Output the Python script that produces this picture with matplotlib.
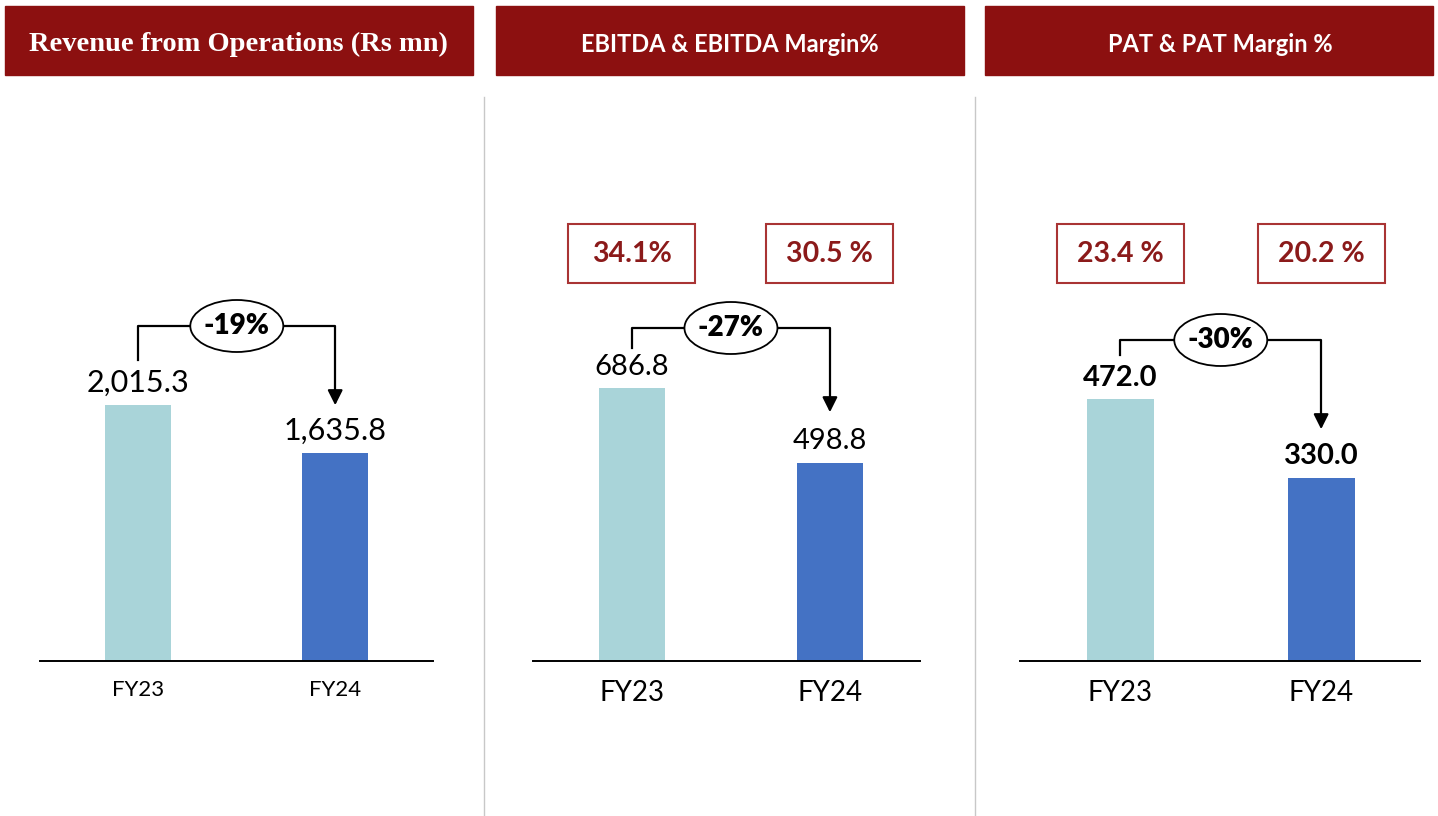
import matplotlib.pyplot as plt
from matplotlib.patches import Rectangle, Ellipse
from matplotlib.transforms import blended_transform_factory

plt.rcParams['font.family'] = ['Lato', 'DejaVu Sans']

# data
years = ['FY23', 'FY24']
revenue = [2015.3, 1635.8]
ebitda = [686.8, 498.8]
pat = [472.0, 330.0]
revenue_change = '-19%'
ebitda_change = '-27%'
pat_change = '-30%'
ebitda_margin = ['34.1%', '30.5 %']
pat_margin = ['23.4 %', '20.2 %']
titles = ['Revenue from Operations (Rs mn)', 'EBITDA & EBITDA Margin%', 'PAT & PAT Margin %']

bar_colors = ['#A9D4D9', '#4472C4']
header_red = '#8C1010'
margin_red = '#8B1A1A'

W, H = 1438, 816
BASE, TOP = 661, 97          # pixel rows of axes bottom / top

fig = plt.figure(figsize=(W / 100, H / 100), dpi=100)

# header bars and separators drawn on a full-figure overlay in pixel units
bg = fig.add_axes([0, 0, 1, 1])
bg.set_xlim(0, W)
bg.set_ylim(H, 0)
bg.axis('off')
headers = [(5, 473), (496, 964), (985, 1433)]
title_x = [238, 730, 1220]
for (x0, x1), t, tx, i in zip(headers, titles, title_x, range(3)):
    bg.add_patch(Rectangle((x0, 6), x1 - x0, 69, color=header_red))
    if i == 0:
        bg.text(tx, 44, t, color='white', ha='center', va='center',
                fontsize=20.5, fontweight='bold', family='Liberation Serif')
    else:
        bg.text(tx, 44, t, color='white', ha='center', va='center',
                fontsize=17, fontweight='bold')
for sx in [484, 975]:
    bg.plot([sx, sx], [TOP, H], color='#C8C8C8', lw=1)


def frac(py):
    return (BASE - py) / (BASE - TOP)


def panel(left, width, xmax, vals, y_top, change, levels, label_bold, label_size,
          tick_size, margins=None):
    ax = fig.add_axes([left / W, (H - BASE) / H, width / W, (BASE - TOP) / H])
    x = [0, 1]
    ax.bar(x, vals, width=0.335, color=bar_colors)
    ax.set_xlim(-0.5, xmax)
    ax.set_ylim(0, y_top)
    ax.set_xticks(x)
    ax.set_xticklabels(years, fontsize=tick_size)
    ax.tick_params(axis='x', length=0, pad=14)
    ax.set_yticks([])
    for s in ['top', 'left', 'right']:
        ax.spines[s].set_visible(False)
    ax.spines['bottom'].set_linewidth(1.4)
    ax.patch.set_alpha(0)

    for xi, v in zip(x, vals):
        ax.annotate(f'{v:,.1f}', (xi, v), xytext=(0, 6), textcoords='offset points',
                    ha='center', va='bottom', fontsize=label_size,
                    fontweight='bold' if label_bold else 'normal')

    tr = blended_transform_factory(ax.transData, ax.transAxes)
    y_start, y_line, y_tip = levels
    ax.plot([0, 0, 1, 1], [frac(y_start), frac(y_line), frac(y_line), frac(y_tip) + 0.03],
            color='black', lw=1.6, transform=tr, zorder=3)
    ax.annotate('', xy=(1, frac(y_tip)), xytext=(1, frac(y_tip) + 0.035),
                xycoords=tr, textcoords=tr,
                arrowprops=dict(arrowstyle='-|>,head_length=0.9,head_width=0.45',
                                color='black', lw=1.6), zorder=3)
    px = (xmax + 0.5) / width  # data units per pixel
    ax.add_patch(Ellipse((0.5, frac(y_line)), 93 * px, 52 / (BASE - TOP),
                         facecolor='white', edgecolor='black', lw=1.3, transform=tr,
                         zorder=4))
    ax.text(0.5, frac(y_line), change, transform=tr, ha='center', va='center',
            fontsize=20, fontweight='heavy', zorder=5)

    if margins:
        for xi, m in zip(x, margins):
            ax.add_patch(Rectangle((xi - 63.5 * px, frac(283)), 127 * px, 59 / (BASE - TOP),
                                   facecolor='white', edgecolor='#A93434', lw=1.5,
                                   transform=tr))
            ax.text(xi, frac(254), m, transform=tr, ha='center', va='center',
                    fontsize=20.5, fontweight='bold', color=margin_red)
    return ax


panel(40, 393, 1.497, revenue, 2015.3 * 564 / 256, revenue_change, (360, 326, 408),
      False, 22, 16)
panel(533, 387, 1.455, ebitda, 686.8 * 564 / 273, ebitda_change, (348, 328, 415),
      False, 21, 20, ebitda_margin)
panel(1020, 400, 1.4925, pat, 472.0 * 564 / 262, pat_change, (355, 340, 432),
      True, 21, 20, pat_margin)

fig.savefig('out.png', dpi=100)
